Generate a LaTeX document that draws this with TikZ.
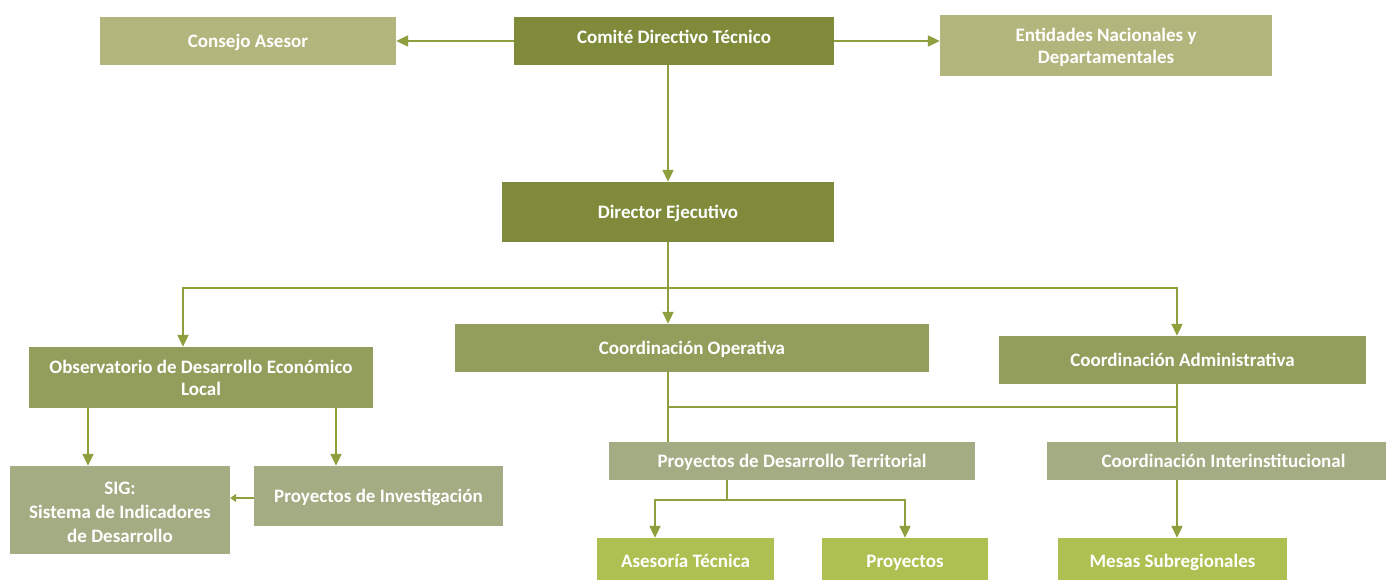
\documentclass[tikz,border=0pt]{standalone}
\usepackage{fontspec}
\setmainfont{Carlito}
\usetikzlibrary{arrows.meta}
\definecolor{oscuro}{HTML}{7F8B3A}
\definecolor{medio}{HTML}{939E5D}
\definecolor{claro}{HTML}{B2B67C}
\definecolor{gris}{HTML}{A4AC83}
\definecolor{lima}{HTML}{AFC053}
\definecolor{enlace}{HTML}{8E9F3E}

\begin{document}
\begin{tikzpicture}[x=1pt,y=-1pt,
  caja/.style={fill=#1,text=white,align=center,inner sep=0pt,
    text height=13.5pt,text depth=0pt,
    font=\bfseries\fontsize{19}{22.5}\selectfont},
  doble/.style={text height=36.5pt},
  linea/.style={draw=enlace,line width=2pt},
  flecha/.style={linea,-{Triangle[width=11pt,length=12pt]}},
  flechita/.style={linea,-{Triangle[width=8pt,length=6pt]}}]
  \useasboundingbox (0,0) rectangle (1386,580);

  % Upper level: steering committee and its neighbours.
  \node[caja=claro,minimum width=296pt,minimum height=48pt] (consejo) at (248,41) {Consejo Asesor};
  \node[caja=oscuro,minimum width=320pt,minimum height=48pt,text depth=7.5pt] (comite) at (674,41) {Comité Directivo Técnico};
  \node[caja=claro,doble,minimum width=332pt,minimum height=61pt] (entidades) at (1106,45.5) {Entidades Nacionales y\\Departamentales};
  \node[caja=oscuro,minimum width=332pt,minimum height=60pt] (director) at (668,212) {Director Ejecutivo};

  % Second level.
  \node[caja=medio,doble,minimum width=344pt,minimum height=61pt] (observatorio) at (201,377.5) {Observatorio de Desarrollo Económico\\Local};
  \node[caja=medio,minimum width=474pt,minimum height=48pt] (coordop) at (692,348) {Coordinación Operativa};
  \node[caja=medio,minimum width=367pt,minimum height=48pt] (coordadm) at (1182.5,360) {Coordinación Administrativa};

  % Third level.
  \node[caja=gris,text height=64pt,minimum width=220pt,minimum height=88pt] (sig) at (120,510) {SIG:\\[1.5pt]Sistema de Indicadores\\[1pt]de Desarrollo};
  \node[caja=gris,minimum width=249pt,minimum height=60pt] (investigacion) at (378.5,496) {Proyectos de Investigación};
  \node[caja=gris,minimum width=366pt,minimum height=38pt] (territorial) at (792,461) {Proyectos de Desarrollo Territorial};
  \node[caja=gris,minimum width=353pt,minimum height=38pt] (interinst) at (1223.5,461) {Coordinación Interinstitucional};

  % Bottom row, cut by the page edge.
  \node[caja=lima,minimum width=177pt,minimum height=46pt] (asesoria) at (685.5,561) {Asesoría Técnica};
  \node[caja=lima,minimum width=166pt,minimum height=46pt] (proyectos) at (905,561) {Proyectos};
  \node[caja=lima,minimum width=229pt,minimum height=46pt] (mesas) at (1172.5,561) {Mesas Subregionales};

  % Connectors of the upper level.
  \draw[flecha] (comite) -- (consejo);
  \draw[flecha] (comite.east) -- (comite.east -| entidades.west);
  \draw[flecha] (director.north |- comite.south) -- (director.north);

  % The director's branch.
  \coordinate (rama) at (668,288);
  \draw[flecha] (director.south) -- (director.south |- coordop.north);
  \draw[flecha] (rama) -| ([xshift=-18pt]observatorio.north);
  \draw[flecha] (rama) -| ([xshift=-5.5pt]coordadm.north);

  % Both coordinations joined above the third level.
  \coordinate (union) at (668,407);
  \draw[linea] (director.south |- coordop.south) -- (director.south |- territorial.north);
  \draw[linea] ([xshift=-5.5pt]coordadm.south) -- ([xshift=-5.5pt]coordadm.south |- interinst.north);
  \draw[linea] (union) -- ([xshift=-5.5pt]union -| coordadm.south);

  % Territorial projects split in two.
  \coordinate (reparto) at (727,500);
  \draw[linea] (reparto |- territorial.south) -- (reparto);
  \draw[flecha] (reparto) -| ([xshift=-30.5pt]asesoria.north);
  \draw[flecha] (reparto) -| (proyectos.north);
  \draw[flecha] ([xshift=4.5pt]mesas.north |- interinst.south) -- ([xshift=4.5pt]mesas.north);

  % The observatory.
  \draw[flecha] ([xshift=-32pt]sig.north |- observatorio.south) -- ([xshift=-32pt]sig.north);
  \draw[flecha] ([xshift=-42.5pt]investigacion.north |- observatorio.south) -- ([xshift=-42.5pt]investigacion.north);
  \draw[flechita] ([yshift=-2pt]investigacion.west) -- ([yshift=-2pt]investigacion.west -| sig.east);
\end{tikzpicture}
\end{document}
